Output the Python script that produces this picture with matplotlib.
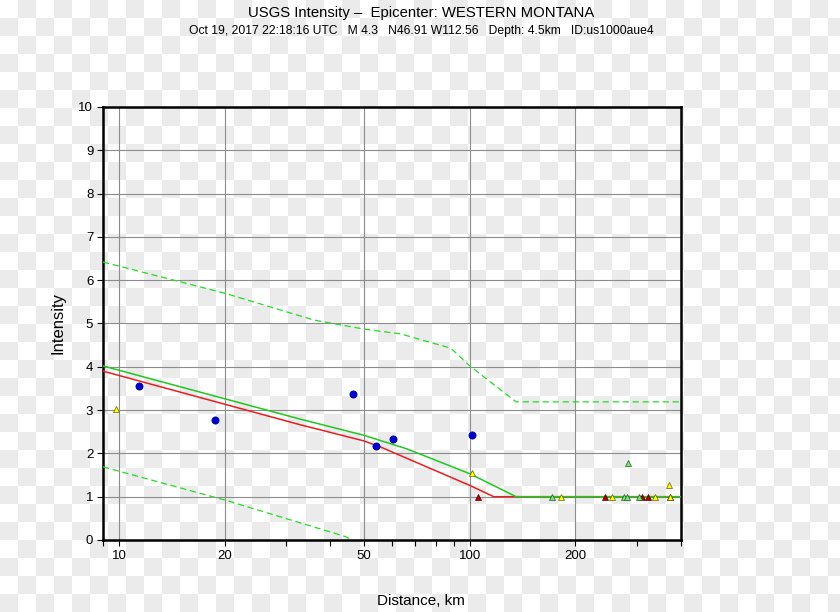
import numpy as np
import matplotlib
matplotlib.use("Agg")
import matplotlib.pyplot as plt
from matplotlib.ticker import FixedLocator, NullFormatter

plt.rcParams["font.family"] = ["Liberation Sans", "DejaVu Sans"]

# observed intensities (distance km, intensity)
dyfi_d = [11.4, 18.8, 46.3, 54.1, 60.4, 101.4]
dyfi_i = [3.55, 2.78, 3.37, 2.17, 2.33, 2.42]

yellow_d = [9.8, 101.4, 182, 254, 337, 369, 372]
yellow_i = [3.02, 1.54, 1.0, 1.0, 1.0, 1.26, 1.0]

green_d = [172, 276, 281, 282, 303]
green_i = [1.0, 1.0, 1.0, 1.77, 1.0]

red_d = [105.5, 243, 309, 322, 371]
red_i = [1.0, 1.0, 1.0, 1.0, 1.0]

# prediction curves
gmice_d = [9.0, 32.9, 49.8, 66.4, 100, 135.5, 400]
gmice_i = [4.02, 2.79, 2.42, 2.10, 1.53, 1.0, 1.0]

ipe_d = [9.0, 32.9, 49.8, 55.6, 100, 117, 400]
ipe_i = [3.90, 2.66, 2.29, 2.15, 1.26, 1.0, 1.0]

upper_d = [9.0, 20.0, 35.9, 50.0, 63.5, 88.3, 100, 135.5, 400]
upper_i = [6.42, 5.70, 5.08, 4.87, 4.76, 4.43, 4.02, 3.19, 3.19]

lower_d = [9.0, 17.0, 20.1, 44.2, 46.0]
lower_i = [1.69, 1.08, 0.92, 0.08, 0.0]

fig = plt.figure(figsize=(8.4, 6.12), dpi=100)

# checkerboard background
h, w, sq = 612, 840, 18
yy, xx = np.mgrid[0:h, 0:w]
board = np.where(((xx // sq) + (yy // sq)) % 2 == 1, 0.922, 1.0)
rgb = np.dstack([board, board, board])
fig.figimage(rgb, 0, 0, origin="upper", zorder=-10)
fig.patch.set_alpha(0)

ax = fig.add_axes([103 / 840, 72 / 612, 578 / 840, 433 / 612])
ax.patch.set_alpha(0)
ax.set_xscale("log")
ax.set_xlim(9, 400)
ax.set_ylim(0, 10)

ax.xaxis.set_major_locator(FixedLocator([10, 20, 50, 100, 200]))
ax.xaxis.set_minor_locator(FixedLocator([9, 30, 40, 60, 70, 80, 90, 300, 400]))
ax.xaxis.set_minor_formatter(NullFormatter())
ax.set_xticklabels(["10", "20", "50", "100", "200"])
ax.set_yticks(range(0, 11))

ax.grid(True, which="major", color="#8c8c8c", lw=0.8)
ax.set_axisbelow(True)
for s in ax.spines.values():
    s.set_linewidth(1.8)
ax.tick_params(which="both", direction="out", length=4, width=0.8, labelsize=9.5, pad=3)

ax.plot(upper_d, upper_i, color="#22dd22", lw=0.9, ls=(0, (5, 3)), zorder=3)
ax.plot(lower_d, lower_i, color="#22dd22", lw=0.9, ls=(0, (5, 3)), zorder=3)
ax.plot(ipe_d, ipe_i, color="#ee1c1c", lw=1.1, zorder=3)
ax.plot(gmice_d, gmice_i, color="#1ec81e", lw=1.1, zorder=3)

ax.plot(red_d, red_i, "^", ms=4.5, mfc="#b40000", mec="#500000", mew=0.5, ls="none", zorder=4)
ax.plot(green_d, green_i, "^", ms=4.5, mfc="#7ee07e", mec="#206020", mew=0.5, ls="none", zorder=4)
ax.plot(yellow_d, yellow_i, "^", ms=4.5, mfc="#ffff00", mec="#606000", mew=0.5, ls="none", zorder=4)
ax.plot(dyfi_d, dyfi_i, "o", ms=5.2, mfc="#0000dd", mec="#000080", mew=0.5, ls="none", zorder=5)

ax.set_ylabel("Intensity", fontsize=12)
ax.yaxis.set_label_coords(-0.065, 0.5)

fig.text(0.501, 1 - 601 / 612, "Distance, km", ha="center", va="center", fontsize=11)
fig.text(0.501, 1 - 13 / 612, "USGS Intensity \u2013  Epicenter: WESTERN MONTANA",
         ha="center", va="center", fontsize=10.7)
fig.text(0.501, 1 - 31 / 612,
         "Oct 19, 2017 22:18:16 UTC   M 4.3   N46.91 W112.56   Depth: 4.5km   ID:us1000aue4",
         ha="center", va="center", fontsize=8.7)

fig.savefig("out.png", dpi=100)
